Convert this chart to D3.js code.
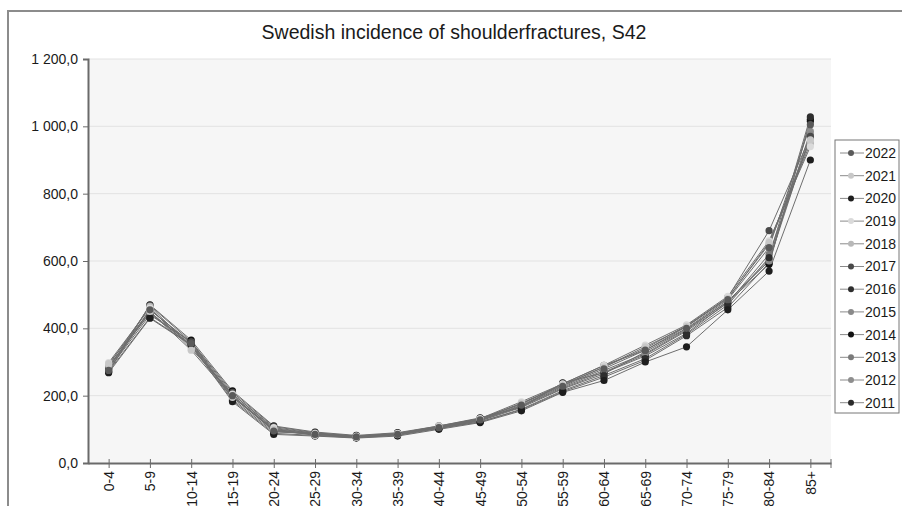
<!DOCTYPE html>
<html><head><meta charset="utf-8">
<script src="https://cdn.jsdelivr.net/npm/d3@7"></script>
<style>body{margin:0;background:#fff}svg{display:block}text{font-family:"Liberation Sans",Arial,sans-serif}</style>
</head><body><svg id="c" width="902" height="506"></svg>
<script>
const categories = ["0-4","5-9","10-14","15-19","20-24","25-29","30-34","35-39","40-44","45-49","50-54","55-59","60-64","65-69","70-74","75-79","80-84","85+"];
const years = ["2022","2021","2020","2019","2018","2017","2016","2015","2014","2013","2012","2011"];
const colors = ["#5a5a5a","#c8c8c8","#1e1e1e","#dadada","#b8b8b8","#4a4a4a","#2e2e2e","#8a8a8a","#111111","#7a7a7a","#8e8e8e","#2a2a2a"];
const v2022 = [275,455,355,200,95,85,78,85,105,128,172,228,280,335,400,485,640,1005];
const v2021 = [295,450,335,195,100,82,76,84,108,130,178,232,285,345,405,488,655,960];
const v2020 = [268,430,350,182,85,80,74,80,100,120,155,210,245,300,345,455,570,900];
const v2019 = [298,460,340,205,105,88,80,88,110,132,182,235,290,350,410,495,660,940];
const v2018 = [290,465,345,200,100,86,79,86,106,130,176,230,285,340,408,490,650,950];
const v2017 = [280,468,360,210,108,90,80,88,108,132,175,235,290,335,405,492,690,970];
const v2016 = [272,432,352,186,88,82,75,82,102,122,160,215,260,310,382,470,610,1028];
const v2015 = [285,455,358,205,102,88,78,86,106,128,170,225,275,325,395,480,600,975];
const v2014 = [270,470,365,214,110,92,82,90,110,134,165,238,268,318,385,478,590,1020];
const v2013 = [282,448,352,198,98,86,78,85,104,126,168,222,270,322,392,475,620,965];
const v2012 = [288,445,348,195,96,85,77,84,104,125,165,220,265,330,398,480,605,985];
const v2011 = [278,440,360,190,92,88,80,86,104,122,158,212,255,305,378,462,595,1015];
const seriesValues = [v2022,v2021,v2020,v2019,v2018,v2017,v2016,v2015,v2014,v2013,v2012,v2011];
const yTicks = [0,200,400,600,800,1000,1200];

const svg = d3.select("#c");
const L=88, R=831, T=59, B=463;
// outer frame
svg.append("rect").attr("x",8).attr("y",11).attr("width",900).attr("height",510)
  .attr("fill","#fff").attr("stroke","#8c8c8c").attr("stroke-width",2);
svg.append("text").attr("x",454).attr("y",39).attr("text-anchor","middle")
  .attr("font-size",19.5).attr("fill","#1a1a1a").text("Swedish incidence of shoulderfractures, S42");

const x = d3.scalePoint().domain(categories).range([L,R]).padding(0.5);
const y = d3.scaleLinear().domain([0,1200]).range([B,T]);

svg.append("rect").attr("x",L).attr("y",T).attr("width",R-L).attr("height",B-T).attr("fill","#f6f6f6");
svg.append("g").selectAll("line").data(yTicks.slice(1)).join("line")
  .attr("x1",L).attr("x2",R).attr("y1",d=>y(d)).attr("y2",d=>y(d))
  .attr("stroke","#e2e2e2").attr("stroke-width",1);

const fmt = d => { const s = d3.format(",.1f")(d); return s.replace(/\./,"#").replace(/,/g," ").replace("#",","); };
const ya = svg.append("g").attr("transform",`translate(${L},0)`)
  .call(d3.axisLeft(y).tickValues(yTicks).tickFormat(fmt).tickSize(5).tickPadding(5));
ya.select(".domain").attr("stroke","#6a6a6a").attr("stroke-width",2);
ya.selectAll(".tick line").attr("stroke","#6a6a6a");
ya.selectAll("text").attr("font-size",14).attr("fill","#1a1a1a").attr("font-family","Liberation Sans, Arial, sans-serif");

const xa = svg.append("g").attr("transform",`translate(0,${B})`)
  .call(d3.axisBottom(x).tickSize(5).tickSizeOuter(0).tickPadding(8));
xa.select(".domain").attr("stroke","#6a6a6a").attr("stroke-width",2);
xa.selectAll(".tick line").attr("stroke","#6a6a6a").attr("y1",-4);
xa.selectAll("text").attr("font-size",14).attr("fill","#1a1a1a").attr("font-family","Liberation Sans, Arial, sans-serif")
  .attr("transform","rotate(-90)").attr("text-anchor","end").attr("x",-8).attr("y",0).attr("dy","0.35em");
svg.append("line").attr("x1",R).attr("x2",R).attr("y1",B-4).attr("y2",B+5).attr("stroke","#6a6a6a");

const line = d3.line().x((d,i)=>x(categories[i])).y(d=>y(d));
const order = d3.range(years.length).reverse();
const g = svg.append("g");
order.forEach(k=>{
  g.append("path").datum(seriesValues[k]).attr("d",line).attr("fill","none")
    .attr("stroke","#6e6e6e").attr("stroke-width",1);
});
order.forEach(k=>{
  g.append("g").selectAll("circle").data(seriesValues[k]).join("circle")
    .attr("cx",(d,i)=>x(categories[i])).attr("cy",d=>y(d)).attr("r",3.6).attr("fill",colors[k]);
});

// legend
const lg = svg.append("g");
lg.append("rect").attr("x",835).attr("y",140).attr("width",64).attr("height",273)
  .attr("fill","#fff").attr("stroke","#777").attr("stroke-width",1);
years.forEach((yr,i)=>{
  const yy = 153 + i*22.7;
  lg.append("line").attr("x1",840).attr("x2",864).attr("y1",yy).attr("y2",yy).attr("stroke","#8a8a8a").attr("stroke-width",1);
  lg.append("circle").attr("cx",851).attr("cy",yy).attr("r",3).attr("fill",colors[i]);
  lg.append("text").attr("x",865).attr("y",yy).attr("dy","0.35em").attr("font-size",14).attr("fill","#1a1a1a").text(yr);
});
</script></body></html>
